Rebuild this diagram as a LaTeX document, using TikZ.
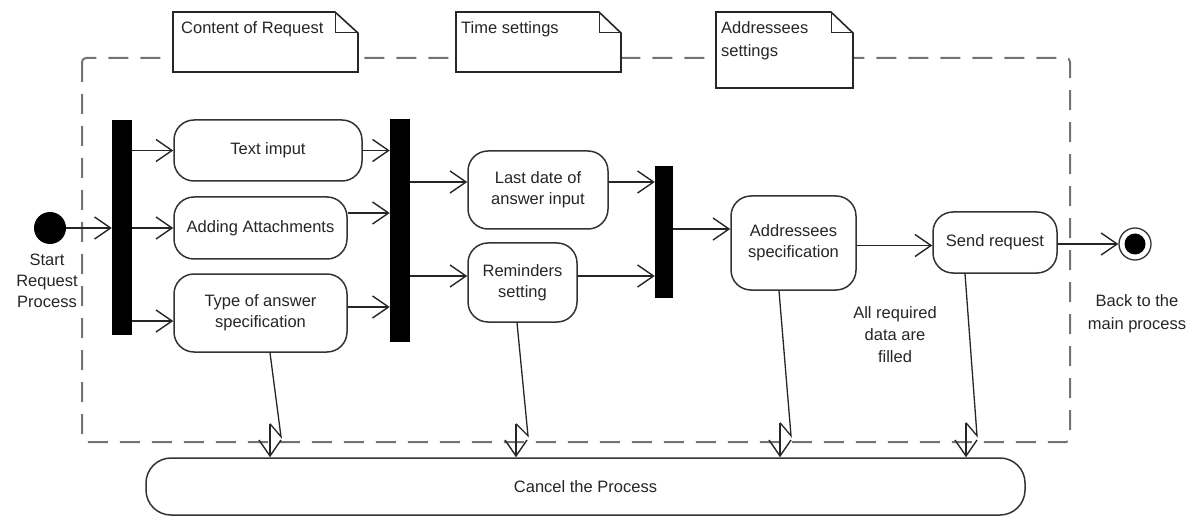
\documentclass[tikz,border=0pt]{standalone}
\usepackage{fontspec}
\setmainfont{Liberation Sans}
\usetikzlibrary{arrows.meta,calc}
\begin{document}
\begin{tikzpicture}[x=1pt,y=-1pt,
  font=\fontsize{16.5}{21}\selectfont,
  every node/.style={text=black!85},
  act/.style={draw=black!80,line width=1.5pt,rounded corners=20pt,fill=white,align=center,inner sep=0pt},
  bar/.style={fill=black,draw=none,inner sep=0pt,minimum width=20pt},
  conn/.style={draw=black!85,line width=1.3pt},
  flow/.style={conn,-{Straight Barb[length=16pt,width=22pt,line width=1.4pt]}},
  notebox/.style={draw=black!85,line width=1.6pt,fill=white},
  fold/.style={draw=black!85,line width=1pt},
  region/.style={draw=black!55,line width=2pt,dash pattern=on 20pt off 12pt,rounded corners=4pt}
]
\path[use as bounding box] (0,0) rectangle (1201,521);

% interruptible region
\draw[region] (82,58) rectangle (1070,442);

% notes
\draw[notebox] (173,12) -- (335,12) -- (358,33) -- (358,72) -- (173,72) -- cycle;
\draw[fold] (335,12) -- (335,33) -- (358,33);
\node[anchor=west,inner sep=0pt] (note1) at (181,29) {Content of Request};

\draw[notebox] (456,12) -- (599,12) -- (621,33) -- (621,72) -- (456,72) -- cycle;
\draw[fold] (599,12) -- (599,33) -- (621,33);
\node[anchor=west,inner sep=0pt] (note2) at (461,29) {Time settings};

\draw[notebox] (716,12) -- (831,12) -- (853,33) -- (853,88) -- (716,88) -- cycle;
\draw[fold] (831,12) -- (831,33) -- (853,33);
\node[anchor=west,inner sep=0pt,align=left,font=\fontsize{16.5}{23}\selectfont] (note3) at (721,40.5) {Addressees\\settings};

% start / end
\node[circle,fill=black,minimum size=32pt,inner sep=0pt] (start) at (50,228) {};
\node[align=center,inner sep=0pt] (startlbl) at (47,281) {Start\\Request\\Process};
\node[circle,draw=black!80,fill=white,line width=1.3pt,minimum size=32pt,inner sep=0pt] (end) at (1135,244) {};
\node[circle,fill=black,minimum size=21pt,inner sep=0pt] (endin) at (end) {};
\node[align=center,inner sep=0pt,font=\fontsize{16.5}{23}\selectfont] (endlbl) at (1137,313.5) {Back to the\\main process};

% bars
\node[bar,minimum height=215pt] (bar1) at (122,227.5) {};
\node[bar,minimum height=223pt] (bar2) at (400,230.5) {};
\node[bar,minimum width=18pt,minimum height=132pt] (bar3) at (664,232) {};

% actions
\node[act,minimum width=188pt,minimum height=61pt] (textin) at (268,150.5) {Text imput};
\node[act,minimum width=173pt,minimum height=62pt] (attach) at (260.5,228) {Adding Attachments};
\node[act,minimum width=173pt,minimum height=78pt] (type) at (260.5,313) {Type of answer\\specification};
\node[act,minimum width=140pt,minimum height=78pt] (lastdate) at (538,190) {Last date of\\answer input};
\node[act,minimum width=109pt,minimum height=79pt] (remind) at (522.5,282.5) {Reminders\\setting};
\node[act,minimum width=125pt,minimum height=94pt] (addr) at (793.5,243) {Addressees\\specification};
\node[act,minimum width=124pt,minimum height=61pt] (send) at (995,242.5) {Send request};
\node[act,rounded corners=25pt,minimum width=879pt,minimum height=57pt] (cancel) at (585.5,486.5) {Cancel the Process};

\node[align=center,inner sep=0pt,font=\fontsize{16.5}{22}\selectfont] (guard) at (895,335) {All required\\data are\\filled};

% flows
\draw[flow] (start) -- (start -| bar1.west);
\draw[flow] (bar1.east |- textin) -- (textin.west);
\draw[flow] (bar1.east |- attach) -- (attach.west);
\coordinate (t3) at ([yshift=-8pt]type.west);
\draw[flow] (bar1.east |- t3) -- (t3);

\draw[flow] (textin.east) -- (textin.east -| bar2.west);
\coordinate (a2) at ([yshift=15pt]attach.east);
\draw[flow] (a2) -- (a2 -| bar2.west);
\coordinate (t2) at ([yshift=6pt]type.east);
\draw[flow] (t2) -- (t2 -| bar2.west);

\coordinate (l1) at ([yshift=8pt]lastdate.west);
\draw[flow] (bar2.east |- l1) -- (l1);
\coordinate (r1) at ([yshift=6.5pt]remind.west);
\draw[flow] (bar2.east |- r1) -- (r1);

\coordinate (l2) at ([yshift=8pt]lastdate.east);
\draw[flow] (l2) -- (l2 -| bar3.west);
\coordinate (r2) at ([yshift=6.5pt]remind.east);
\draw[flow] (r2) -- (r2 -| bar3.west);

\coordinate (d1) at ([yshift=14pt]addr.west);
\draw[flow] (bar3.east |- d1) -- (d1);
\coordinate (d2) at ([yshift=-2.5pt]addr.east);
\draw[flow] (d2) -- (d2 -| send.west);
\draw[flow] (send.east |- end) -- (end.west);

% interrupting edges
\draw[conn] ([xshift=9.5pt]type.south) -- ++(11,84) -- ++(-11,-13) coordinate (z1);
\draw[flow] (z1) -- (z1 |- cancel.north);
\draw[conn] ([xshift=-5.5pt]remind.south) -- ++(11,113) -- ++(-12,-12) coordinate (z2);
\draw[flow] (z2) -- (z2 |- cancel.north);
\draw[conn] ([xshift=-14.5pt]addr.south) -- ++(12,145) -- ++(-11,-13) coordinate (z3);
\draw[flow] (z3) -- (z3 |- cancel.north);
\draw[conn] ([xshift=-30pt]send.south) -- ++(12,162) -- ++(-11,-13) coordinate (z4);
\draw[flow] (z4) -- (z4 |- cancel.north);
\end{tikzpicture}
\end{document}
